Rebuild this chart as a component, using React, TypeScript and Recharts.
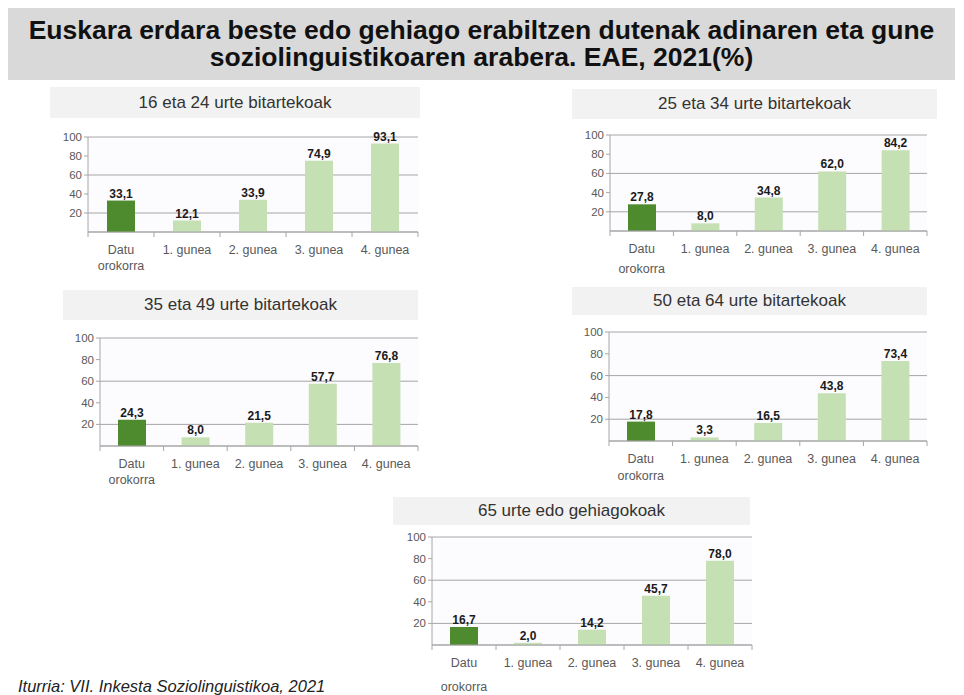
import React from "react";
import { BarChart, Bar, XAxis, YAxis, CartesianGrid, LabelList, Cell } from "recharts";

const categories = ["Datu orokorra", "1. gunea", "2. gunea", "3. gunea", "4. gunea"];
const yTicks = [20, 40, 60, 80, 100];

const panelTitles = [
  "16 eta 24 urte bitartekoak",
  "25 eta 34 urte bitartekoak",
  "35 eta 49 urte bitartekoak",
  "50 eta 64 urte bitartekoak",
  "65 urte edo gehiagokoak",
];

const values16_24 = [33.1, 12.1, 33.9, 74.9, 93.1];
const values25_34 = [27.8, 8.0, 34.8, 62.0, 84.2];
const values35_49 = [24.3, 8.0, 21.5, 57.7, 76.8];
const values50_64 = [17.8, 3.3, 16.5, 43.8, 73.4];
const values65 = [16.7, 2.0, 14.2, 45.7, 78.0];

const DARK = "#4e8a2e";
const LIGHT = "#c5e0b3";
const GREY_TEXT = "#595959";

// placement of each small chart (plot area corners + title box + gap of 2nd label line)
const layouts = [
  { plot: [88, 418, 137, 232], box: [50, 420, 87, 118], gap: 16 },
  { plot: [610, 927, 135, 231], box: [572, 937, 89, 119], gap: 20 },
  { plot: [100, 418, 338, 446], box: [63, 418, 290, 320], gap: 16 },
  { plot: [609, 927, 332, 441], box: [572, 927, 287, 315], gap: 17 },
  { plot: [432, 752, 537, 645], box: [393, 750, 497, 525], gap: 24 },
];

const fmt = (v: number) => v.toFixed(1).replace(".", ",");

function Panel({ title, values, layout }: { title: string; values: number[]; layout: any }) {
  const [pl, pr, pt, pb] = layout.plot;
  const [bl, br, bt, bb] = layout.box;
  const yAxisW = 30;
  const m = { top: 12, right: 5, left: 5, bottom: 0 };
  const xAxisH = 50;
  const width = pr - pl + yAxisW + m.left + m.right;
  const height = pb - pt + m.top + xAxisH;
  const band = (pr - pl) / categories.length;
  const data = categories.map((c, i) => ({ name: c, value: values[i] }));

  const tick = (props: any) => {
    const { x, y, payload, index } = props;
    const lines = String(payload.value).split(" ");
    const twoLine = lines.length > 1 && lines[0] === "Datu";
    return (
      <g>
        <line x1={x - band / 2} x2={x - band / 2} y1={y} y2={y + 5} stroke="#a6a6a6" />
        {index === categories.length - 1 && (
          <line x1={x + band / 2} x2={x + band / 2} y1={y} y2={y + 5} stroke="#a6a6a6" />
        )}
        {twoLine ? (
          <text textAnchor="middle" fontSize={12.5} fill={GREY_TEXT}>
            <tspan x={x} y={y + 22}>{lines[0]}</tspan>
            <tspan x={x} y={y + 22 + layout.gap}>{lines[1]}</tspan>
          </text>
        ) : (
          <text x={x} y={y + 22} textAnchor="middle" fontSize={12.5} fill={GREY_TEXT}>
            {payload.value}
          </text>
        )}
      </g>
    );
  };

  return (
    <>
      <div
        style={{
          position: "absolute",
          left: bl,
          top: bt,
          width: br - bl,
          height: bb - bt,
          background: "#f2f2f2",
          color: "#333",
          fontSize: 17,
          lineHeight: `${bb - bt}px`,
          textAlign: "center",
        }}
      >
        {title}
      </div>
      <div style={{ position: "absolute", left: pl - yAxisW - m.left, top: pt - m.top }}>
        <BarChart width={width} height={height} data={data} margin={m}>
          <CartesianGrid vertical={false} stroke="#a6a6a6" fill="#fcfbfe" />
          <XAxis
            dataKey="name"
            height={xAxisH}
            axisLine={{ stroke: "#a6a6a6" }}
            tickLine={false}
            tickSize={0}
            tickMargin={0}
            interval={0}
            tick={tick}
          />
          <YAxis
            width={yAxisW}
            domain={[0, 100]}
            ticks={yTicks}
            axisLine={{ stroke: "#a6a6a6" }}
            tickLine={{ stroke: "#a6a6a6" }}
            tickSize={4}
            tick={{ fontSize: 11.5, fill: GREY_TEXT }}
          />
          <Bar dataKey="value" barSize={28} isAnimationActive={false}>
            {data.map((d, i) => (
              <Cell key={d.name} fill={i === 0 ? DARK : LIGHT} />
            ))}
            <LabelList
              dataKey="value"
              position="top"
              offset={3}
              formatter={(v: any) => fmt(Number(v))}
              style={{ fontSize: 12, fontWeight: "bold", fill: "#1a1a1a" }}
            />
          </Bar>
        </BarChart>
      </div>
    </>
  );
}

export default function App() {
  const series = [values16_24, values25_34, values35_49, values50_64, values65];
  return (
    <div
      style={{
        position: "absolute",
        left: 0,
        top: 0,
        width: 964,
        height: 695,
        background: "#fff",
        fontFamily: "'Liberation Sans', Arial, sans-serif",
        overflow: "hidden",
      }}
    >
      <div
        style={{
          position: "absolute",
          left: 8,
          top: 8,
          width: 947,
          height: 72,
          background: "#d9d9d9",
          textAlign: "center",
          fontWeight: "bold",
          fontSize: 26.5,
          lineHeight: "27px",
          color: "#111",
          paddingTop: 9,
          boxSizing: "border-box",
          whiteSpace: "nowrap",
        }}
      >
        Euskara erdara beste edo gehiago erabiltzen dutenak adinaren eta gune
        <br />
        soziolinguistikoaren arabera. EAE, 2021(%)
      </div>
      {series.map((vals, i) => (
        <Panel key={panelTitles[i]} title={panelTitles[i]} values={vals} layout={layouts[i]} />
      ))}
      <div
        style={{
          position: "absolute",
          left: 18,
          top: 677,
          fontSize: 16.5,
          fontStyle: "italic",
          color: "#222",
        }}
      >
        Iturria: VII. Inkesta Soziolinguistikoa, 2021
      </div>
    </div>
  );
}
